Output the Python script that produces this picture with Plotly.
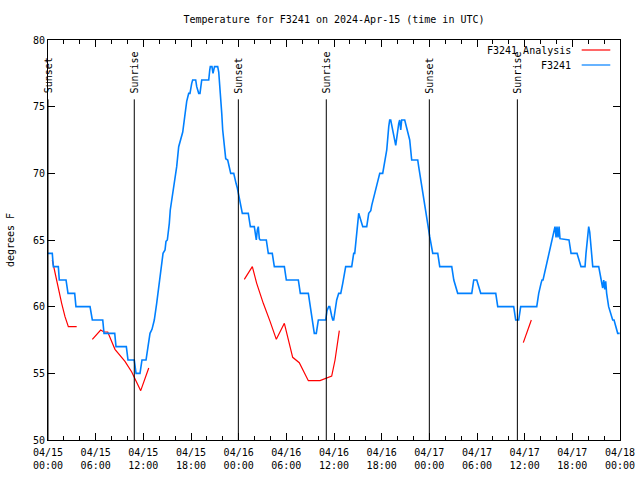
import pandas as pd
import plotly.graph_objects as go

START = pd.Timestamp("2024-04-15 00:00")

# F3241 observations: hours after 2024-04-15 00:00 UTC, temperature (deg F)
blue_hours = [0.00, 0.54, 0.67, 1.30, 1.42, 2.27, 2.52, 3.36, 3.52, 5.29, 5.58, 6.89, 7.05, 8.40,
              8.56, 9.86, 10.07, 10.86, 11.08, 11.58, 11.83, 12.34, 12.59, 12.84, 13.09, 13.38,
              13.68, 13.94, 14.06, 14.35, 14.48, 14.73, 14.85, 15.02, 15.14, 15.27, 15.39, 15.65,
              15.95, 16.20, 16.45, 16.70, 16.96, 17.21, 17.46, 17.71, 17.87, 18.09, 18.21, 18.59,
              18.72, 18.97, 19.13, 19.35, 20.23, 20.36, 20.43, 20.64, 20.77, 20.96, 21.36, 21.49,
              21.61, 21.74, 21.87, 21.99, 22.12, 22.24, 22.37, 22.62, 22.75, 22.87, 23.00, 23.38,
              23.50, 23.67, 23.83, 23.96, 24.21, 24.33, 24.46, 25.21, 25.34, 25.47, 25.97, 26.22,
              26.35, 26.47, 26.60, 26.72, 27.48, 27.73, 28.23, 28.49, 29.75, 30.00, 31.51, 31.76,
              32.77, 33.02, 33.27, 33.52, 33.77, 34.03, 34.96, 35.12, 35.33, 35.46, 35.71, 35.84,
              35.96, 36.22, 36.34, 36.59, 36.85, 37.10, 37.22, 37.35, 37.47, 38.23, 38.48, 38.61,
              38.86, 38.99, 39.11, 39.62, 40.12, 40.37, 40.63, 40.75, 40.88, 41.13, 41.38, 41.63,
              41.76, 42.13, 42.38, 42.64, 42.89, 43.01, 43.14, 43.52, 43.77, 44.15, 44.27, 44.40,
              44.52, 44.90, 45.28, 45.53, 45.78, 46.54, 46.66, 46.92, 47.17, 47.42, 47.67, 47.80,
              48.05, 48.43, 49.06, 49.31, 50.82, 51.08, 51.57, 53.34, 53.59, 53.97, 54.47, 56.36,
              56.61, 58.62, 58.87, 59.25, 59.50, 61.52, 61.77, 62.06, 62.18, 62.31, 62.81, 63.06,
              63.44, 63.82, 63.95, 64.07, 64.20, 64.33, 64.45, 65.58, 65.84, 66.59, 67.09, 67.60,
              67.72, 67.85, 68.06, 68.19, 68.31, 68.57, 69.32, 69.57, 69.82, 69.95, 70.08, 70.20,
              70.32, 70.57, 70.83, 71.08, 71.25, 71.59, 71.71, 71.96]
blue_temps = [64, 64, 63, 63, 62, 62, 61, 61, 60, 60, 59, 59, 58, 58,
              57, 57, 56, 56, 55, 55, 56, 56, 57, 58, 58.3, 59,
              60.25, 61.4, 62, 63.5, 64, 64.25, 64.9, 65, 65.5, 66.25, 67.25, 68.25,
              69.75, 70.5, 72, 72.5, 73.1, 74.25, 75.4, 76, 76, 76.75, 77, 77,
              76.5, 76, 76, 77, 77, 77.75, 78, 78, 77.5, 78, 78, 77.6,
              76.75, 75.5, 74.5, 73.25, 72.5, 71.75, 71.1, 71, 70.6, 70.25, 70, 70,
              69.6, 69.25, 68.9, 68.5, 67.75, 67.4, 67, 67, 66.5, 66, 66, 65,
              65.75, 66, 65.1, 65, 65, 64, 64, 63, 63, 62, 62, 61,
              61, 60, 59, 58, 58, 59, 59, 59.7, 60, 60, 59.3, 59,
              59, 60.1, 60.5, 61, 61, 61.75, 62.25, 62.75, 63, 63, 64, 64,
              65.5, 66.25, 67, 66, 66, 67, 67.2, 67.6, 68, 68.5, 69.1, 69.75,
              70, 70, 70.75, 71.75, 73.5, 74, 74, 73, 72.1, 73.75, 74, 73.25,
              74, 74, 73.1, 72.5, 71, 71, 70.5, 69.5, 68.5, 67.5, 66.5, 66,
              65.25, 64, 64, 63, 63, 62, 61, 61, 62, 62, 61, 61,
              60, 60, 59, 59, 60, 60, 61, 61.75, 62, 62, 63.25, 64,
              65, 66, 65.2, 66, 65.2, 66, 65.1, 65, 64, 64, 63, 63,
              64, 65, 66, 65.6, 64.5, 63, 63, 62.25, 61.4, 62, 61.3, 61.9,
              61, 60, 59.5, 59, 59, 58.1, 58, 58]

# F3241 Analysis (None = gap between analysis runs)
red_hours = [0.54, 0.88, 1.30, 1.72, 2.14, 2.56, 3.61, None,
             5.58, 6.63, 7.05, 7.52, 8.43, 8.85, 9.69, 10.54, 10.83, 11.67, 12.68, None,
             24.71, 25.72, 26.27, 27.10, 27.95, 28.74, 29.75, 30.80, 31.63, 32.77, 34.24,
             34.99, 35.71, 36.13, 36.67, None,
             59.83, 60.84]
red_temps = [63.5, 62.5, 61.25, 60.25, 59.25, 58.5, 58.5, None,
             57.55, 58.25, 58.1, 58.1, 56.8, 56.5, 55.9, 55.1, 54.75, 53.7, 55.4, None,
             62.05, 63, 61.75, 60.25, 58.9, 57.55, 58.75, 56.2, 55.8, 54.45, 54.45,
             54.6, 54.8, 56, 58.2, None,
             57.3, 59]

sun_event_hours = [0.0, 10.86, 23.96, 35.03, 48.0, 59.08]
sun_event_labels = ["Sunset", "Sunrise", "Sunset", "Sunrise", "Sunset", "Sunrise"]
sun_line_top = 75.55

x_tick_hours = [0, 6, 12, 18, 24, 30, 36, 42, 48, 54, 60, 66, 72]
x_tick_labels = ["04/15<br>00:00", "04/15<br>06:00", "04/15<br>12:00", "04/15<br>18:00",
                 "04/16<br>00:00", "04/16<br>06:00", "04/16<br>12:00", "04/16<br>18:00",
                 "04/17<br>00:00", "04/17<br>06:00", "04/17<br>12:00", "04/17<br>18:00",
                 "04/18<br>00:00"]
x_minor_hours = [h for h in range(0, 73, 2) if h % 6 != 0]
y_tick_values = [50, 55, 60, 65, 70, 75, 80]


def to_time(hours):
    return [None if h is None else START + pd.Timedelta(hours=h) for h in hours]


FONT = "DejaVu Sans Mono"
BLUE = "#0080ff"
RED = "#ff0000"

fig = go.Figure()
fig.add_trace(go.Scatter(x=to_time(red_hours), y=red_temps, mode="lines", name="F3241 Analysis",
                         line=dict(color=RED, width=1.2), connectgaps=False, showlegend=False))
fig.add_trace(go.Scatter(x=to_time(blue_hours), y=blue_temps, mode="lines", name="F3241",
                         line=dict(color=BLUE, width=1.6), showlegend=False))

shapes = []
annotations = []
for h, lab in zip(sun_event_hours, sun_event_labels):
    t = START + pd.Timedelta(hours=h)
    shapes.append(dict(type="line", xref="x", yref="y", x0=t, x1=t, y0=50, y1=sun_line_top,
                       line=dict(color="black", width=1)))
    annotations.append(dict(x=t, y=sun_line_top, xref="x", yref="y", text=lab, textangle=-90,
                            showarrow=False, xanchor="center", yanchor="bottom", yshift=4,
                            font=dict(family=FONT, size=10, color="black")))

# manual gnuplot-style legend (text right, sample line to its right)
legend_items = [("F3241 Analysis", RED, 0.975), ("F3241", BLUE, 0.9375)]
for name, col, yy in legend_items:
    annotations.append(dict(x=0.918, y=yy, xref="paper", yref="paper", text=name, showarrow=False,
                            xanchor="right", yanchor="middle",
                            font=dict(family=FONT, size=10, color="black")))
    shapes.append(dict(type="line", xref="paper", yref="paper", x0=0.933, x1=0.983, y0=yy, y1=yy,
                       line=dict(color=col, width=1.2)))

fig.update_layout(
    width=640, height=480,
    margin=dict(l=48, r=20, t=40, b=40, autoexpand=False),
    paper_bgcolor="white", plot_bgcolor="white",
    font=dict(family=FONT, size=10, color="black"),
    title=dict(text="Temperature for F3241 on 2024-Apr-15 (time in UTC)", x=0.5, xref="paper",
               y=1 - 19 / 480, yanchor="middle", font=dict(family=FONT, size=10, color="black")),
    shapes=shapes, annotations=annotations, showlegend=False,
)
fig.update_xaxes(
    automargin=False,
    range=[START, START + pd.Timedelta(hours=72)], showgrid=False, zeroline=False,
    showline=True, linecolor="black", linewidth=1, mirror="allticks",
    ticks="inside", ticklen=7, tickcolor="black", tickwidth=1,
    tickmode="array", tickvals=to_time(x_tick_hours), ticktext=x_tick_labels,
    ticklabelstandoff=3,
    minor=dict(tickmode="array", tickvals=to_time(x_minor_hours), ticks="inside", ticklen=4,
               tickcolor="black", showgrid=False),
    tickfont=dict(family=FONT, size=10, color="black"),
)
fig.update_yaxes(
    automargin=False,
    range=[50, 80], showgrid=False, zeroline=False,
    showline=True, linecolor="black", linewidth=1, mirror="allticks",
    ticks="inside", ticklen=7, tickcolor="black", tickwidth=1,
    tickmode="array", tickvals=y_tick_values, ticktext=[str(v) for v in y_tick_values],
    tickfont=dict(family=FONT, size=10, color="black"),
    title=dict(text="degrees F", standoff=16, font=dict(family=FONT, size=10, color="black")),
)

fig.write_html("out.html", config={"displayModeBar": False},
               post_script="document.body.style.margin='0';document.body.style.overflow='hidden';")
